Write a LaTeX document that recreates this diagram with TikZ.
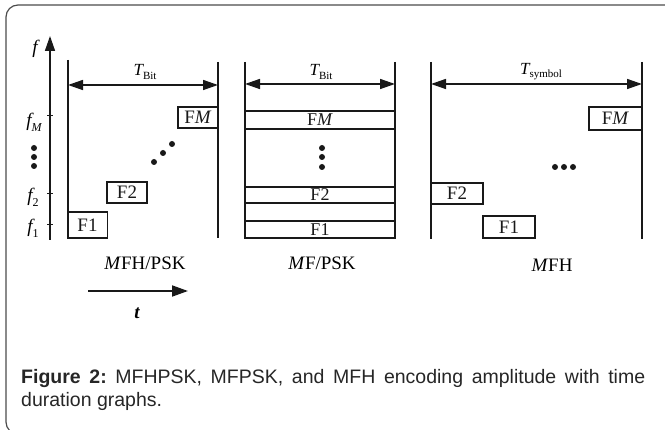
\documentclass[tikz,border=0pt]{standalone}
\usepackage{fontspec}
\setmainfont{Liberation Serif}
\newfontfamily\capfont{Liberation Sans}
\usetikzlibrary{arrows.meta}
\frenchspacing
\begin{document}
\begin{tikzpicture}[x=1pt,y=-1pt,
  ln/.style={line width=1.5pt, black!90},
  dimarrow/.style={ln, {Triangle[length=15pt,width=10pt]}-{Triangle[length=15pt,width=10pt]}},
  fbox/.style={draw, line width=1.3pt, black!90, inner sep=0pt, font=\fontsize{19}{19}\selectfont},
  strip/.style={draw, line width=1.3pt, black!90, inner sep=0pt, minimum width=150pt, font=\fontsize{18}{18}\selectfont},
  tlabel/.style={font=\fontsize{17}{17}\selectfont, inner sep=0pt},
  flabel/.style={font=\fontsize{19}{19}\selectfont, inner sep=0pt},
  plabel/.style={font=\fontsize{19}{19}\selectfont, inner sep=0pt},
  dot/.style={fill=black!90, circle, inner sep=0pt, minimum size=6pt},
]
\useasboundingbox (0,0) rectangle (665,430);
\begin{scope}
  \clip (0,0) rectangle (665,430);
  \draw[black!70, line width=1.2pt, rounded corners=12pt] (6,5) rectangle (690,434);
\end{scope}

% ---------- panel 1 ----------
\coordinate (fo) at (50,240);
\coordinate (ftip) at (50,36);
\draw[ln, -{Triangle[length=15pt,width=10pt]}] (fo) -- (ftip);
\foreach \yy in {116,194,225} \draw[ln, line width=1pt] (47,\yy) -- (53,\yy);
\node[flabel] (flab) at (35,49) {\itshape f};
\node[flabel] (fM) at (34,122) {\itshape f\raisebox{-0.55ex}{\fontsize{12}{12}\selectfont M}};
\node[dot] (vd1) at (34,148) {};
\node[dot] (vd2) at (34,157) {};
\node[dot] (vd3) at (34,166) {};
\node[flabel] (f2) at (33,197) {\itshape f\raisebox{-0.55ex}{\fontsize{12}{12}\selectfont\upshape 2}};
\node[flabel] (f1) at (33,228) {\itshape f\raisebox{-0.55ex}{\fontsize{12}{12}\selectfont\upshape 1}};

\coordinate (p1lt) at (68,60);  \coordinate (p1lb) at (68,238);
\coordinate (p1rt) at (218,62); \coordinate (p1rb) at (218,238);
\draw[ln] (p1lt) -- (p1lb);
\draw[ln] (p1rt) -- (p1rb);
\coordinate (p1a) at (68,85); \coordinate (p1b) at (218,85);
\draw[dimarrow] (p1a) -- (p1b);
\node[tlabel] (tb1) at (145,72) {\itshape T\raisebox{-0.4ex}{\fontsize{11}{11}\selectfont\upshape Bit}};

\node[fbox, minimum width=40pt, minimum height=26pt] (a1) at (87.5,225) {F1};
\node[fbox, minimum width=40pt, minimum height=21pt] (a2) at (127,192.5) {F2};
\node[fbox, minimum width=40pt, minimum height=21pt] (aM) at (198,117.5) {F\textit{M}};
\node[dot] (dd1) at (154,162) {};
\node[dot] (dd2) at (163,153) {};
\node[dot] (dd3) at (172,144) {};
\node[plabel] (l1) at (145,263) {\textit{M}FH/PSK};
\coordinate (ta) at (88,291); \coordinate (tb) at (188,291);
\draw[ln, line width=1.8pt, -{Triangle[length=16pt,width=11pt]}] (ta) -- (tb);
\node[flabel] (tlab) at (137,313) {\bfseries\itshape t};

% ---------- panel 2 ----------
\coordinate (p2lt) at (245,62);  \coordinate (p2lb) at (245,238);
\coordinate (p2rt) at (395,62);  \coordinate (p2rb) at (395,238);
\draw[ln] (p2lt) -- (p2lb);
\draw[ln] (p2rt) -- (p2rb);
\coordinate (p2a) at (245,84); \coordinate (p2b) at (395,84);
\draw[dimarrow] (p2a) -- (p2b);
\node[tlabel] (tb2) at (321,72) {\itshape T\raisebox{-0.4ex}{\fontsize{11}{11}\selectfont\upshape Bit}};
\node[strip, minimum height=18pt] (sM) at (320,120) {F\textit{M}};
\node[strip, minimum height=16pt] (s2) at (320,195) {F2};
\node[strip, minimum height=17pt] (s1) at (320,229.5) {F1};
\node[dot] (ve1) at (322,148) {};
\node[dot] (ve2) at (322,157) {};
\node[dot] (ve3) at (322,167) {};
\node[plabel] (l2) at (322,263) {\textit{M}F/PSK};

% ---------- panel 3 ----------
\coordinate (p3lt) at (431,62);  \coordinate (p3lb) at (431,239);
\coordinate (p3rt) at (642,62);  \coordinate (p3rb) at (642,239);
\draw[ln] (p3lt) -- (p3lb);
\draw[ln] (p3rt) -- (p3rb);
\coordinate (p3a) at (431,84); \coordinate (p3b) at (642,84);
\draw[dimarrow] (p3a) -- (p3b);
\node[tlabel] (tb3) at (541,72) {\itshape T\raisebox{-0.4ex}{\fontsize{11}{11}\selectfont\upshape symbol}};
\node[fbox, minimum width=53pt, minimum height=23pt] (bM) at (615.5,118.5) {F\textit{M}};
\node[fbox, minimum width=52pt, minimum height=21pt] (b2) at (457,193.5) {F2};
\node[fbox, minimum width=52pt, minimum height=22pt] (b1) at (509,227) {F1};
\node[dot] (hd1) at (555,167) {};
\node[dot] (hd2) at (564,167) {};
\node[dot] (hd3) at (573,167) {};
\node[plabel] (l3) at (552,265) {\textit{M}FH};

% ---------- caption ----------
\node[anchor=north west, inner sep=0pt, text width=624pt, align=justify,
      font=\capfont\fontsize{19.5}{23}\selectfont, text=black!85] (cap) at (21,369)
  {\textbf{Figure 2:} MFHPSK, MFPSK, and MFH encoding amplitude with time\linebreak duration graphs.};
\end{tikzpicture}
\end{document}
